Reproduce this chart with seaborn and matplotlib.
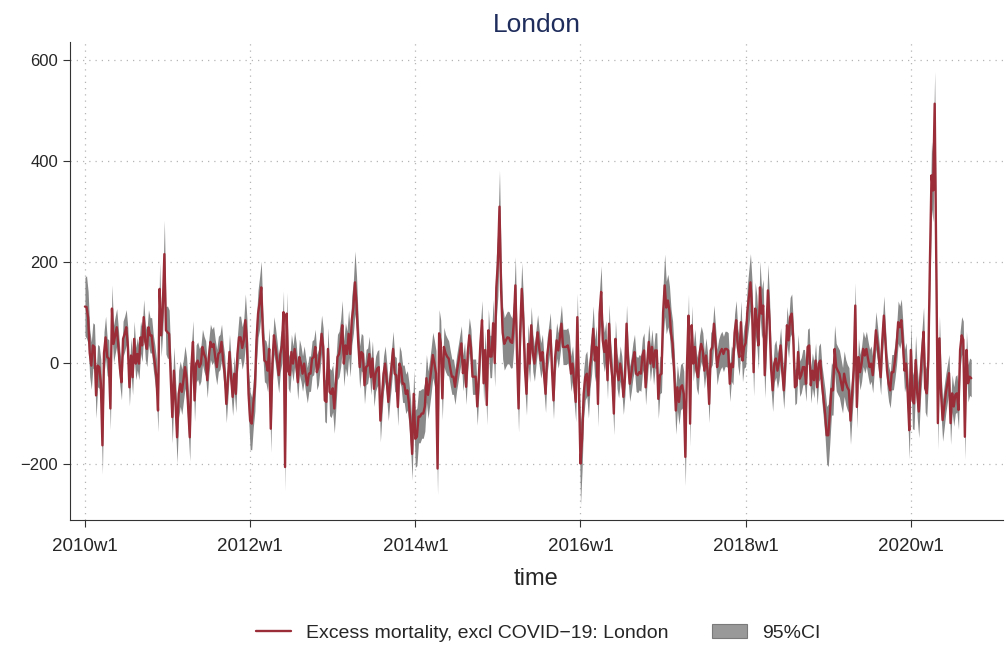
import numpy as np
import pandas as pd
import seaborn as sns
import matplotlib
matplotlib.use("Agg")
import matplotlib.pyplot as plt
from matplotlib.patches import Patch
from matplotlib.lines import Line2D

# Weekly excess mortality (excl COVID-19), London.
# Stata weekly dates: 52 weeks per year, starting 2010w1.
excess_2010 = [112, 111, 90, 20, -5, 35, 32, -64, -5, -8, -40, -163, 20, 51, 12, 9, -90, 108, 38, 55,
               71, 35, -10, -38, 48, 58, 71, 35, -48, 15, -28, 48, -1, 18, -1, 51, 35, 91, 42, 28,
               71, 55, 55, 22, -1, -28, -94, 147, 55, 110, 216, 65]
excess_2011 = [61, 58, -28, -107, -15, -77, -147, -61, -41, -57, -34, -8, -31, -90, -147, -8, 42, -74, -1, 5,
               -8, -1, 32, 18, 9, -34, 12, 42, 32, 38, 12, -8, 18, 22, 42, 5, -21, -81, -34, 22,
               -28, -67, -21, -61, 18, 51, 51, 30, 45, 85, 40, -61]
excess_2012 = [-114, -120, -80, -48, 45, 98, 120, 150, 60, 5, 2, -15, 28, -130, -1, 55, 32, 5, -24, 18,
               35, 101, -206, 98, -15, -24, 22, -1, 28, 5, -38, 12, -1, -21, -1, -24, -44, -21, -21, 9,
               12, 32, -18, -8, 22, 58, 32, -74, -77, 28, -57, -61]
excess_2013 = [-50, -90, -41, 12, 18, 40, 75, -1, 35, 18, 58, 18, 85, 111, 160, 117, 45, -8, 22, 18,
               -44, -8, -5, 18, -28, 9, -51, -21, -11, -8, -114, -67, -21, -1, -34, -77, -41, -8, 28, -21,
               -24, -87, -1, -11, -41, -41, -61, -54, -81, -120, -180, -61]
excess_2014 = [-150, -146, -106, -106, -100, -100, -86, -30, -63, -40, -14, 16, 0, -20, -209, 59, 40, -70, 32, 20,
               13, 9, -10, -27, -27, -47, -20, 0, 20, 39, -20, 6, -47, 20, 55, 32, -27, -27, -27, -86,
               -27, 40, 85, -40, 26, -83, 65, 13, 13, 79, 0, 150]
excess_2015 = [200, 310, 145, 60, 38, 45, 51, 50, 42, 40, 80, 154, 20, -90, 60, 147, 85, -10, -61, 38,
               -1, 75, 20, -1, 32, 61, 30, 5, 22, -20, -61, 15, 40, 65, -10, -74, 10, 45, 25, 50,
               78, 32, 32, 32, 35, 20, -21, -1, -40, -77, 91, -50]
excess_2016 = [-199, -150, -61, -28, -21, -64, -8, 20, 68, 5, 32, -81, 98, 141, 45, 22, 45, -34, 78, 5,
               -28, -100, 48, -15, -34, -1, -21, -67, -28, 78, -1, -41, -21, 5, 22, -21, -24, -18, -21, 15,
               25, -48, -1, 42, -1, 32, -8, 25, 25, -71, -24, -21]
excess_2017 = [100, 154, 110, 124, 104, 60, 38, -20, -94, -48, -77, -48, -44, -61, -186, -8, 94, -120, 75, -1,
               32, -15, -28, 20, 38, 25, -15, 15, -15, -81, 25, 32, 78, 38, -8, 12, 22, 28, 18, 28,
               28, 25, -41, -1, -8, 60, 85, 32, 12, 81, 5, 32]
excess_2018 = [40, 100, 130, 160, 111, -18, 108, 85, 35, 150, 98, 114, -24, 58, 144, 85, -11, -54, -1, 9,
               -15, 2, 35, -15, -54, 2, 75, 45, 91, 98, 45, -48, -44, 22, -31, -24, -8, -8, -41, 32,
               35, -44, -15, -34, 5, -48, -1, 5, -41, -70, -100, -143]
excess_2019 = [-143, -100, -51, -54, 28, -8, -15, -21, -38, -54, -21, -38, -48, -54, -114, -60, -15, 114, -87, 12,
               -18, -1, 28, 15, 28, 9, -8, -1, -24, 20, 65, 38, 5, -28, 45, 94, 38, -15, -41, -54,
               -18, -18, 5, 35, 81, 71, 85, 38, -15, -1, -60, -133]
excess_2020 = [26, -73, -80, 6, -60, -96, -27, 20, 62, -50, -60, 6, 200, 372, 342, 514, 200, -119, 49, -60,
               -113, -86, -60, -40, -20, -119, -60, -86, -63, -60, -93, 26, 55, 46, -146, 26, -40, -27, -30]

# Half-width of the 95% CI band
ci_2010 = [58, 62, 52, 47, 47, 45, 45, 45, 42, 42, 47, 57, 42, 42, 37, 37, 42, 47, 37, 37,
           37, 35, 35, 35, 35, 35, 35, 35, 37, 35, 35, 35, 32, 32, 32, 32, 32, 35, 35, 35,
           35, 35, 35, 35, 37, 37, 42, 52, 42, 47, 67, 47]
ci_2011 = [52, 47, 47, 52, 47, 47, 52, 47, 45, 45, 42, 42, 42, 45, 47, 42, 42, 42, 37, 37,
           37, 35, 35, 35, 35, 35, 35, 35, 35, 35, 35, 35, 35, 35, 35, 35, 35, 37, 35, 35,
           35, 37, 35, 37, 37, 42, 42, 42, 42, 52, 47, 47]
ci_2012 = [57, 52, 47, 47, 45, 47, 52, 52, 45, 42, 42, 42, 42, 47, 37, 37, 37, 37, 35, 35,
           35, 42, 47, 42, 35, 35, 35, 35, 35, 35, 35, 35, 35, 35, 35, 35, 35, 35, 35, 35,
           35, 35, 35, 35, 35, 37, 37, 42, 42, 42, 47, 47]
ci_2013 = [47, 49, 47, 45, 45, 47, 49, 45, 45, 45, 47, 45, 49, 52, 62, 55, 45, 42, 37, 37,
           37, 35, 35, 35, 35, 35, 35, 35, 35, 35, 42, 37, 35, 35, 35, 37, 35, 35, 35, 35,
           35, 37, 35, 35, 37, 37, 39, 39, 42, 47, 52, 47]
ci_2014 = [57, 57, 52, 52, 49, 49, 49, 47, 47, 45, 45, 45, 45, 45, 52, 47, 45, 42, 39, 37,
           37, 35, 35, 35, 35, 35, 35, 35, 35, 35, 35, 35, 35, 35, 35, 35, 35, 35, 35, 37,
           35, 37, 39, 37, 37, 39, 42, 42, 42, 47, 47, 62]
ci_2015 = [67, 72, 62, 52, 52, 52, 52, 52, 52, 49, 49, 57, 45, 47, 45, 52, 47, 42, 42, 39,
           37, 37, 37, 35, 35, 35, 35, 35, 35, 35, 37, 35, 35, 35, 35, 37, 35, 35, 35, 35,
           37, 35, 35, 35, 35, 35, 35, 35, 37, 39, 47, 47]
ci_2016 = [82, 62, 47, 45, 45, 45, 42, 42, 45, 42, 42, 45, 47, 52, 42, 39, 39, 37, 39, 35,
           35, 42, 37, 35, 35, 35, 35, 35, 35, 37, 35, 35, 35, 35, 35, 35, 35, 35, 35, 35,
           35, 35, 35, 35, 35, 35, 35, 35, 35, 39, 37, 37]
ci_2017 = [52, 62, 52, 52, 49, 47, 45, 45, 47, 45, 45, 45, 45, 45, 57, 42, 42, 45, 39, 35,
           35, 35, 35, 35, 35, 35, 35, 35, 35, 37, 35, 35, 37, 35, 35, 35, 35, 35, 35, 35,
           35, 35, 35, 35, 35, 37, 39, 37, 37, 42, 42, 42]
ci_2018 = [47, 52, 55, 57, 52, 47, 52, 49, 47, 52, 49, 52, 45, 45, 52, 45, 42, 42, 37, 37,
           35, 35, 35, 35, 37, 35, 37, 35, 39, 39, 35, 35, 35, 35, 35, 35, 35, 35, 35, 35,
           35, 35, 35, 35, 35, 35, 35, 35, 37, 42, 47, 57]
ci_2019 = [62, 57, 52, 49, 47, 47, 47, 47, 47, 45, 45, 45, 45, 45, 47, 45, 42, 45, 42, 37,
           35, 35, 35, 35, 35, 35, 35, 35, 35, 35, 37, 35, 35, 35, 35, 39, 35, 35, 35, 35,
           35, 35, 35, 37, 42, 42, 42, 42, 42, 42, 47, 57]
ci_2020 = [52, 57, 52, 49, 49, 52, 47, 47, 49, 47, 47, 45, 57, 67, 62, 64, 57, 52, 45, 42,
           42, 42, 39, 37, 37, 42, 37, 39, 37, 37, 39, 37, 37, 37, 45, 37, 37, 37, 37]

tick_years = [2010, 2012, 2014, 2016, 2018, 2020]
y_ticks = [-200, 0, 200, 400, 600]

excess = np.concatenate([excess_2010, excess_2011, excess_2012, excess_2013, excess_2014, excess_2015,
                         excess_2016, excess_2017, excess_2018, excess_2019, excess_2020])
ci_half = np.concatenate([ci_2010, ci_2011, ci_2012, ci_2013, ci_2014, ci_2015,
                          ci_2016, ci_2017, ci_2018, ci_2019, ci_2020])

df = pd.DataFrame({
    "week": np.arange(len(excess)),   # weeks since 2010w1
    "excess": excess,
    "lo": excess - ci_half,
    "hi": excess + ci_half,
})

sns.set_style("ticks")
plt.rcParams["font.family"] = ["Liberation Sans", "DejaVu Sans"]

line_color = "#9b2d38"
band_color = "#898989"

fig, ax = plt.subplots(figsize=(10.06, 6.48), dpi=100)
fig.subplots_adjust(left=0.0696, right=0.997, top=0.935, bottom=0.1975)

ax.fill_between(df["week"], df["lo"], df["hi"], color=band_color, lw=0)
sns.lineplot(data=df, x="week", y="excess", color=line_color, lw=1.7, ax=ax)

ax.set_xlim(-9.4, 578)
ax.set_ylim(-311, 636)
ax.set_xticks([(y - 2010) * 52 for y in tick_years])
ax.set_xticklabels([f"{y}w1" for y in tick_years])
ax.set_yticks(y_ticks)
ax.set_yticklabels([str(v).replace("-", "\u2212") for v in y_ticks])
ax.tick_params(axis="both", length=5, width=0.8, color="#333333")
ax.tick_params(axis="x", labelsize=13.5, pad=8)
ax.tick_params(axis="y", labelsize=12)

ax.grid(True, linestyle=(0, (1, 4)), color="#b5b5b5", lw=0.9)
ax.set_axisbelow(True)
sns.despine(ax=ax)
for s in ["left", "bottom"]:
    ax.spines[s].set_color("#333333")
    ax.spines[s].set_linewidth(0.8)

ax.set_xlabel("time", fontsize=17, labelpad=9)
ax.set_ylabel("")
ax.set_title("London", fontsize=19, color="#1f2d5c", pad=7)

handles = [Line2D([0], [0], color=line_color, lw=1.7),
           Patch(facecolor="#999999", edgecolor="#7a7a7a", lw=0.8)]
labels = ["Excess mortality, excl COVID\u221219: London", "95%CI"]
fig.legend(handles, labels, loc="center", bbox_to_anchor=(0.535, 0.023), ncol=2, frameon=False,
           fontsize=14, columnspacing=2.2, handlelength=1.8, handletextpad=0.8)

fig.savefig("out.png", dpi=100)
